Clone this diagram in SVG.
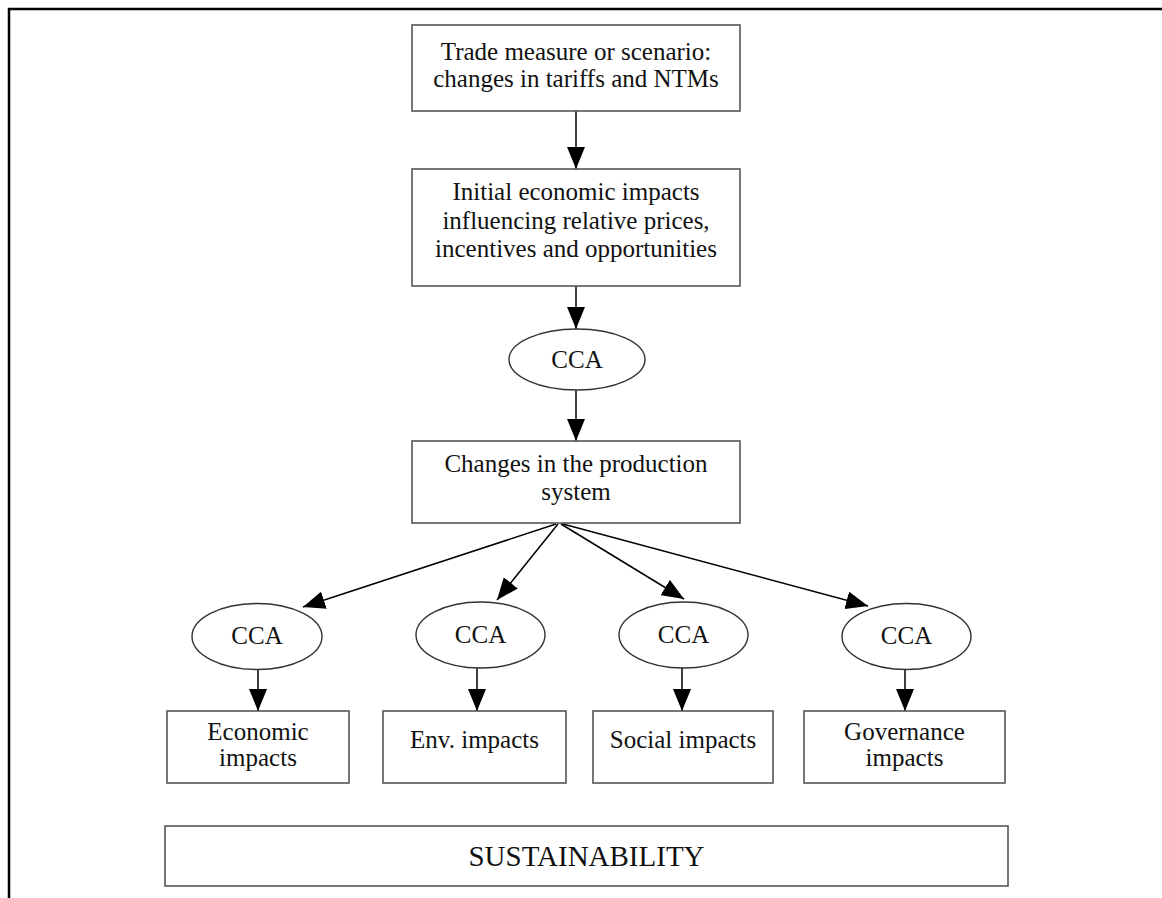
<svg xmlns="http://www.w3.org/2000/svg" width="1162" height="898" viewBox="0 0 1162 898">
<style>
.frame{stroke:#000;stroke-width:2.5;fill:none}
.box{fill:#fff;stroke:#555;stroke-width:1.6}
.ell{fill:#fff;stroke:#333;stroke-width:1.4}
.t{font-family:"Liberation Serif","Times New Roman",serif;font-size:25px;fill:#111;text-anchor:middle}
.s{font-family:"Liberation Serif","Times New Roman",serif;font-size:29px;fill:#111;text-anchor:middle}
.c{stroke:#000;stroke-width:1.5;fill:none;marker-end:url(#ah)}
</style>
<defs>
<marker id="ah" viewBox="0 0 22 18" refX="22" refY="9" markerWidth="22" markerHeight="18" markerUnits="userSpaceOnUse" orient="auto">
<path d="M0,0 L22,9 L0,18 Z" fill="#000"/>
</marker>
</defs>
<rect width="1162" height="898" fill="#fff"/>
<path class="frame" d="M9,898 L9,9 L1162,9"/>
<g id="connectors">
<line class="c" x1="576" y1="111" x2="576" y2="169"/>
<line class="c" x1="576" y1="286" x2="576" y2="329"/>
<line class="c" x1="576" y1="390" x2="576" y2="441"/>
<line class="c" x1="556" y1="524" x2="303" y2="607"/>
<line class="c" x1="558" y1="524" x2="497" y2="600"/>
<line class="c" x1="561" y1="524" x2="684" y2="599"/>
<line class="c" x1="563" y1="524" x2="868" y2="606"/>
<line class="c" x1="258" y1="670" x2="258" y2="711"/>
<line class="c" x1="477" y1="668" x2="477" y2="711"/>
<line class="c" x1="682" y1="668" x2="682" y2="711"/>
<line class="c" x1="905" y1="670" x2="905" y2="711"/>
</g>
<g id="trade">
<rect class="box" x="412" y="25" width="328" height="86"/>
<text class="t" x="576" y="60">Trade measure or scenario:</text>
<text class="t" x="576" y="87">changes in tariffs and NTMs</text>
</g>
<g id="initial">
<rect class="box" x="412" y="169" width="328" height="117"/>
<text class="t" x="576" y="200">Initial economic impacts</text>
<text class="t" x="576" y="229">influencing relative prices,</text>
<text class="t" x="576" y="257">incentives and opportunities</text>
</g>
<g id="cca0">
<ellipse class="ell" cx="577" cy="359.5" rx="68" ry="30.5"/>
<text class="t" x="577" y="368">CCA</text>
</g>
<g id="production">
<rect class="box" x="412" y="441" width="328" height="82"/>
<text class="t" x="576" y="472">Changes in the production</text>
<text class="t" x="576" y="500">system</text>
</g>
<g id="cca1">
<ellipse class="ell" cx="257" cy="636.5" rx="65" ry="33"/>
<text class="t" x="257" y="644">CCA</text>
</g>
<g id="cca2">
<ellipse class="ell" cx="480.5" cy="635" rx="64.5" ry="33"/>
<text class="t" x="480.5" y="643">CCA</text>
</g>
<g id="cca3">
<ellipse class="ell" cx="683.5" cy="635" rx="64.5" ry="33"/>
<text class="t" x="683.5" y="643">CCA</text>
</g>
<g id="cca4">
<ellipse class="ell" cx="906.5" cy="636.5" rx="64.5" ry="33"/>
<text class="t" x="906.5" y="644">CCA</text>
</g>
<g id="economic">
<rect class="box" x="167" y="711" width="182" height="72"/>
<text class="t" x="258" y="740">Economic</text>
<text class="t" x="258" y="766">impacts</text>
</g>
<g id="env">
<rect class="box" x="383" y="711" width="183" height="72"/>
<text class="t" x="474.5" y="748">Env. impacts</text>
</g>
<g id="social">
<rect class="box" x="593" y="711" width="180" height="72"/>
<text class="t" x="683" y="748">Social impacts</text>
</g>
<g id="governance">
<rect class="box" x="804" y="711" width="201" height="72"/>
<text class="t" x="904.5" y="740">Governance</text>
<text class="t" x="904.5" y="766">impacts</text>
</g>
<g id="sustainability">
<rect class="box" x="165" y="826" width="843" height="60"/>
<text class="s" x="586.5" y="866">SUSTAINABILITY</text>
</g>
</svg>
